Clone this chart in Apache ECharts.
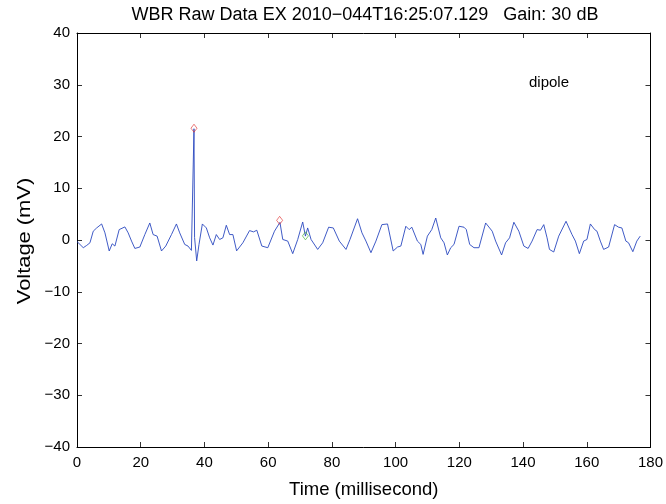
<!DOCTYPE html>
<html>
<head>
<meta charset="utf-8">
<script src="https://cdn.jsdelivr.net/npm/echarts@6/dist/echarts.min.js"></script>
<style>html,body{margin:0;padding:0;background:#fff}#c{width:666px;height:504px}</style>
</head>
<body>
<div id="c"></div>
<script>
var titleText = 'WBR Raw Data EX 2010\u2212044T16:25:07.129   Gain: 30 dB';
var xName = 'Time (millisecond)';
var yName = 'Voltage (mV)';
var xTicks = [0, 20, 40, 60, 80, 100, 120, 140, 160, 180];
var yTicks = [-40, -30, -20, -10, 0, 10, 20, 30, 40];

var timeMs = [0, 0.94, 1.97, 3.04, 4.07, 5.10, 6.17, 7.73, 8.77, 10.11, 11.05, 11.90, 13.24, 15.03, 16.06, 17.12, 18.16, 19.72, 21.29, 22.85, 23.89, 25.14, 26.52, 27.86, 29.65, 31.21, 32.24, 33.81, 34.84, 35.91, 36.5, 36.72, 36.9, 37.57, 38.29, 39.35, 40.6, 41.64, 42.67, 43.73, 44.77, 45.80, 46.86, 47.90, 48.93, 50.1, 52.06, 54.16, 55.41, 56.44, 58.01, 59.89, 61.98, 63.7, 64.58, 66.15, 67.71, 69.28, 70.84, 71.69, 72.4, 73.47, 75.54, 77.11, 78.98, 80.45, 82.33, 84.43, 85.68, 88.06, 89.44, 90.69, 92.26, 93.82, 95.70, 97.46, 99.24, 100.6, 101.65, 103.21, 104.25, 105.09, 106.84, 107.91, 108.63, 109.98, 111.35, 112.6, 114.17, 115.2, 116.24, 117.3, 118.33, 119.9, 121.47, 122.19, 123.25, 124.6, 126.16, 128.26, 130.32, 131.39, 133.27, 134.52, 135.77, 137.12, 138.68, 140.25, 141.59, 142.84, 144.41, 145.47, 146.5, 147.54, 148.29, 149.63, 151.2, 153.49, 155.37, 156.43, 157.68, 159.03, 160.06, 161.13, 162.48, 163.2, 164.26, 165.29, 166.86, 168.73, 169.98, 171.02, 172.27, 173.11, 174.46, 175.71, 176.78];
var voltage = [-0.3, -0.86, -1.49, -1.05, -0.54, 1.70, 2.33, 3.10, 1.38, -2.12, -0.73, -1.17, 2.01, 2.53, 1.38, -0.21, -1.63, -1.36, 1.05, 3.29, 1.05, 0.75, -2.12, -1.17, 1.05, 3.10, 1.38, -0.86, -1.17, -2.01, -1.8, 21.5, 0.5, -4.04, -0.86, 3.10, 2.33, 0.42, -0.98, 1.05, 0.10, 0.42, 2.85, 1.05, 1.05, -2.1, -0.54, 1.82, 1.57, 1.89, -1.17, -1.49, 1.70, 3.4, 0.10, -0.21, -2.64, 0.10, 3.48, 0.75, 2.33, 0.10, -1.82, -0.54, 2.47, 2.33, -0.21, -1.82, 0.10, 4.11, 1.38, -0.21, -2.45, -0.21, 2.97, 3.10, -2.12, -1.36, -1.17, 2.66, 2.01, 2.47, -0.21, -0.86, -2.78, 0.75, 2.01, 4.25, 0.42, -0.54, -2.89, -1.49, -0.86, 2.66, 2.47, 2.01, -0.86, -1.49, -1.49, 3.29, 1.70, -0.21, -2.89, -0.54, 0.42, 3.43, 1.70, -1.17, -1.63, -0.21, 2.01, 1.89, 2.97, 0.42, -1.82, -2.32, 0.75, 3.62, 1.05, -0.21, -2.64, -0.21, 0.10, 3.10, 2.01, 1.70, -0.21, -1.82, -1.36, 2.97, 2.47, 2.33, -0.21, -0.54, -2.26, -0.21, 0.75];

var redTime = [36.72, 63.6];
var redVolt = [21.6, 3.8];
var greenTime = [71.7];
var greenVolt = [0.8];

var annotationText = 'dipole';

function pairs(a, b) { return a.map(function (v, i) { return [v, b[i]]; }); }

var chart = echarts.init(document.getElementById('c'), null, { renderer: 'canvas' });
var font = 'Liberation Sans, Arial, Helvetica, sans-serif';
var axisCommon = {
  type: 'value',
  axisLine: { show: true, onZero: false, lineStyle: { color: '#000', width: 1 } },
  axisTick: { show: true, inside: true, length: 5, lineStyle: { color: '#000', width: 0.8 } },
  splitLine: { show: false }
};
chart.setOption({
  animation: false,
  backgroundColor: '#fff',
  title: {
    text: titleText, left: 360, top: 1, textAlign: 'center',
    textStyle: { fontFamily: font, fontSize: 18, fontWeight: 'normal', color: '#000' }
  },
  grid: { left: 77, right: 14, top: 33, bottom: 53 },
  xAxis: [
    Object.assign({}, axisCommon, {
      position: 'bottom', min: xTicks[0], max: xTicks[xTicks.length - 1], interval: 20,
      name: xName, nameLocation: 'middle', nameGap: 33,
      nameTextStyle: { fontFamily: font, fontSize: 18.5, color: '#000' },
      axisLabel: { fontFamily: font, fontSize: 15, color: '#000', margin: 8 }
    }),
    Object.assign({}, axisCommon, {
      position: 'top', min: xTicks[0], max: xTicks[xTicks.length - 1], interval: 20,
      axisLabel: { show: false }
    })
  ],
  yAxis: [
    Object.assign({}, axisCommon, {
      position: 'left', min: yTicks[0], max: yTicks[yTicks.length - 1], interval: 10,
      axisLabel: {
        fontFamily: font, fontSize: 15, color: '#000', margin: 7,
        formatter: function (v) { return v < 0 ? '\u2212' + Math.abs(v) : String(v); }
      }
    }),
    Object.assign({}, axisCommon, {
      position: 'right', min: yTicks[0], max: yTicks[yTicks.length - 1], interval: 10,
      axisLabel: { show: false }
    })
  ],
  series: [
    {
      type: 'line', data: pairs(timeMs, voltage), showSymbol: false, symbol: 'none',
      lineStyle: { color: '#2a48c0', width: 0.9 }, z: 2
    },
    {
      type: 'scatter', data: pairs(redTime, redVolt), symbol: 'diamond', symbolSize: [6, 8],
      itemStyle: { color: 'rgba(0,0,0,0)', borderColor: '#e03030', borderWidth: 0.8 }, z: 3
    },
    {
      type: 'scatter', data: pairs(greenTime, greenVolt), symbol: 'diamond', symbolSize: [6, 8],
      itemStyle: { color: 'rgba(0,0,0,0)', borderColor: '#40b030', borderWidth: 0.8 }, z: 3
    }
  ],
  graphic: [
    {
      type: 'text', left: 529, top: 75,
      style: { text: annotationText, font: '15px ' + font, fill: '#000' }
    },
    {
      type: 'text', x: 25, y: 241, rotation: Math.PI / 2, scaleX: 1.25,
      style: { text: yName, font: '17.5px ' + font, fill: '#000', align: 'center', verticalAlign: 'middle' }
    }
  ]
});
</script>
</body>
</html>
